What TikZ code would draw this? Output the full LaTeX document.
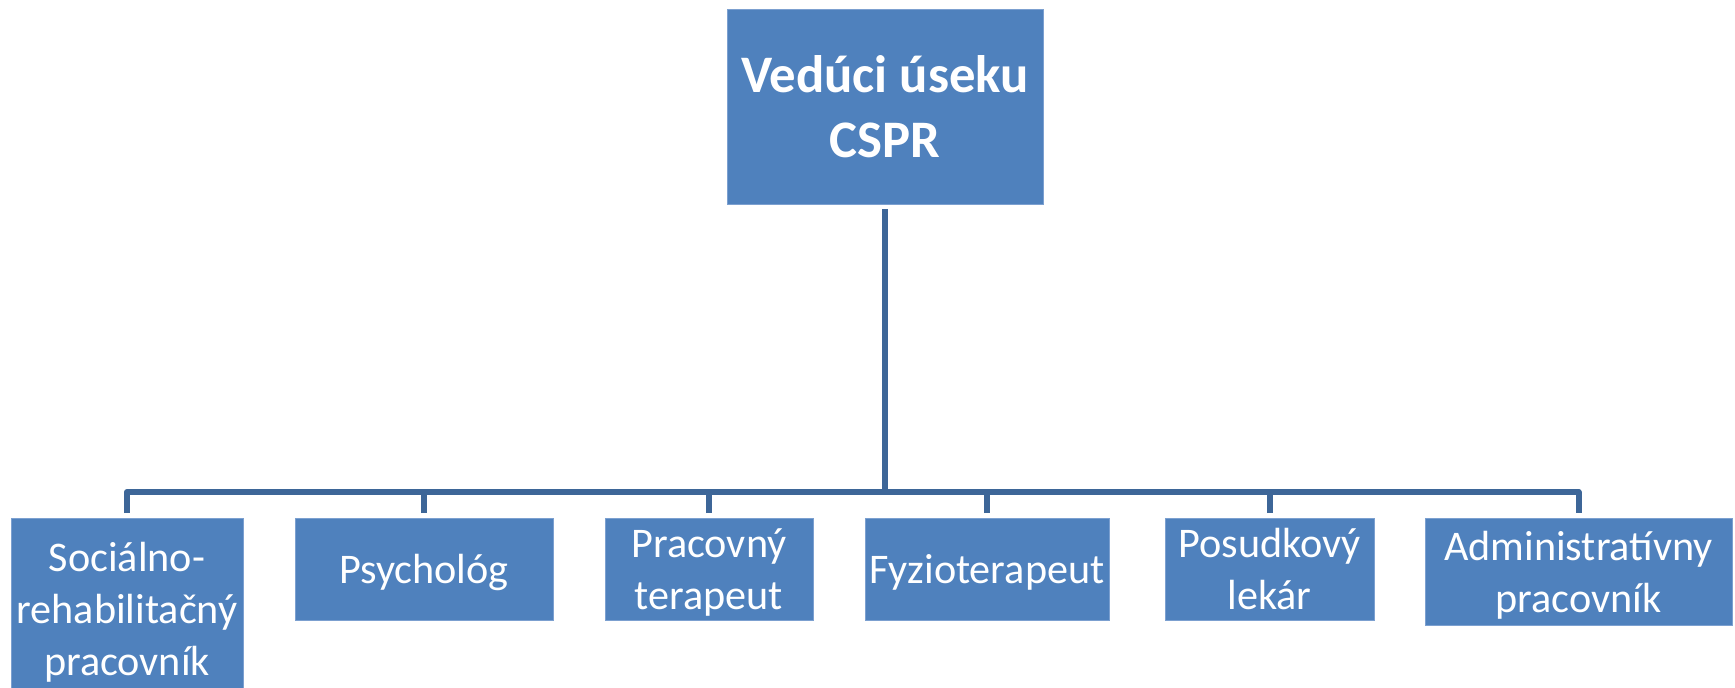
\documentclass[tikz,border=0pt]{standalone}
\usepackage{fontspec}
\setmainfont{Carlito}
\usepackage{tikz}
\definecolor{boxblue}{RGB}{79,129,189}
\definecolor{boxedge}{RGB}{124,160,208}
\definecolor{lineblue}{RGB}{61,102,152}
\tikzstyle{unit} = [draw=boxedge, line width=0.6pt, fill=boxblue, text=white,
	inner sep=0pt, outer xsep=0pt, outer ysep=3.5pt, align=center, text depth=0pt,
	font=\fontsize{30}{37}\selectfont]
\tikzstyle{head} = [unit, font=\fontsize{37.5}{46}\selectfont\bfseries]
\tikzstyle{link} = [draw=lineblue, line width=4.27pt]

\begin{document}
\begin{tikzpicture}[x=0.025cm,y=-0.025cm]
				\useasboundingbox (0,0) rectangle (1735,687);
				
				\node [head, minimum width=7.9cm, minimum height=4.875cm] (V) at (885,106.5) {Vedúci úseku\\CSPR};
				
				\node [unit, minimum width=5.8cm, minimum height=4.75cm, text depth=6pt] (N1) at (127,613) {Sociálno-\\rehabilitačný\\pracovník};
				\node [unit, minimum width=6.45cm, minimum height=2.55cm] (N2) at (424,569) {Psychológ};
				\node [unit, minimum width=5.2cm, minimum height=2.55cm] (N3) at (709,569) {Pracovný\\terapeut};
				\node [unit, minimum width=6.1cm, minimum height=2.55cm] (N4) at (987,569) {Fyzioterapeut};
				\node [unit, minimum width=5.225cm, minimum height=2.55cm] (N5) at (1269.5,569) {Posudkový\\lekár};
				\node [unit, minimum width=7.675cm, minimum height=2.675cm] (N6) at (1578.5,571.5) {Administratívny\\pracovník};
				
				\coordinate (B) at (885,492);
				\draw [link] (V.south) -- (B);
				\draw [link, line join=round] (N1.north) -- (N1.north |- B) -- (N6.north |- B) -- (N6.north);
				\foreach \n in {N2,N3,N4,N5}{
					\draw [link] (\n.north) -- (\n.north |- B);
				}
				
\end{tikzpicture}
\end{document}
